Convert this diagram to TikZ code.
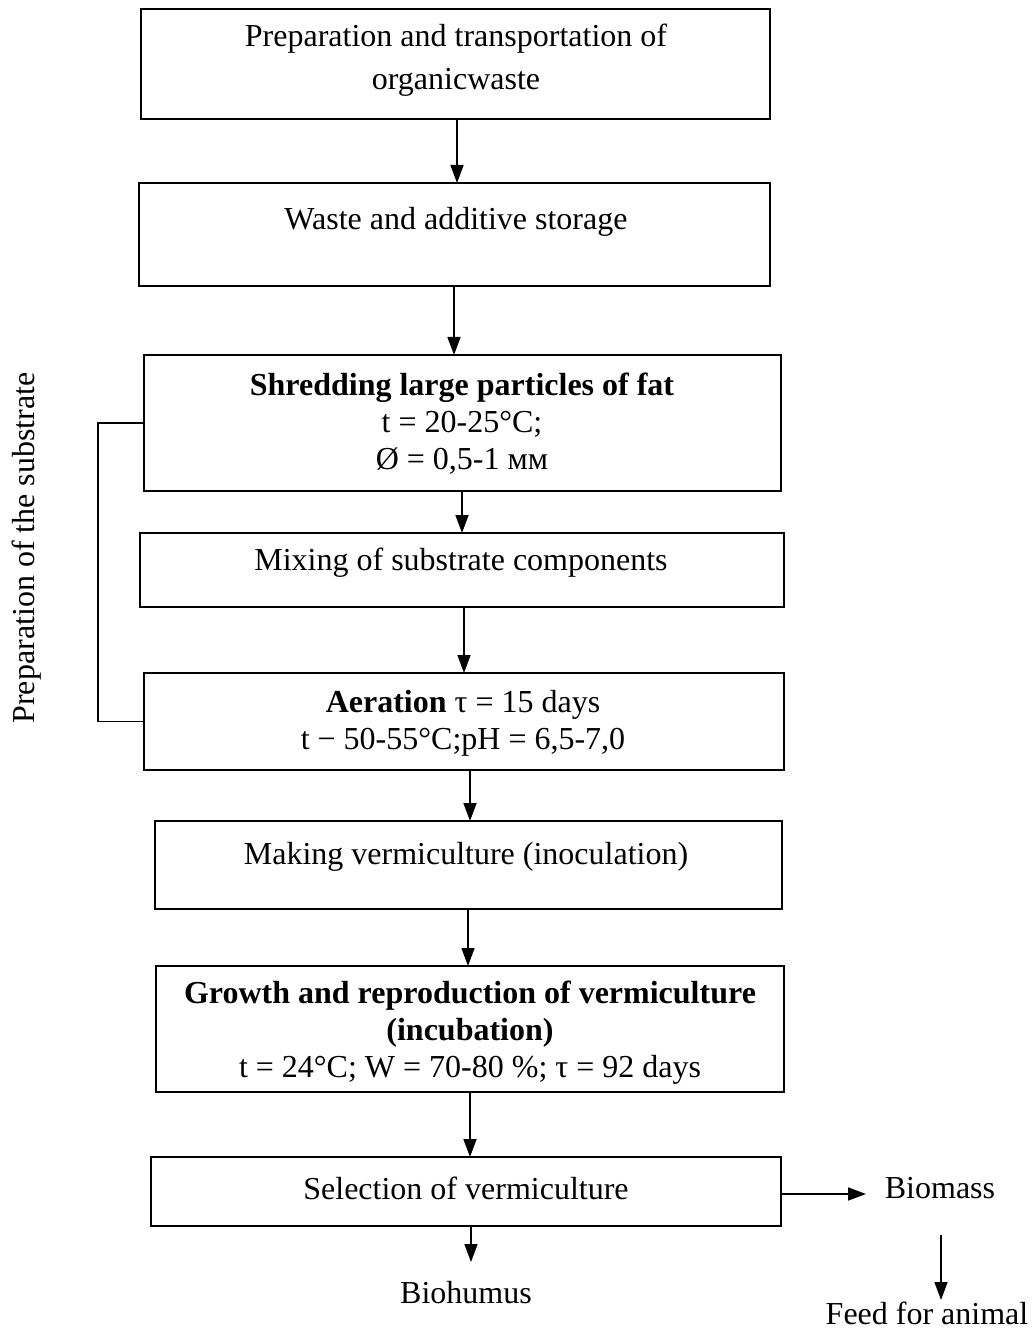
\documentclass[tikz,border=0pt]{standalone}
\usepackage{fontspec}
\setmainfont{Liberation Serif}
\usetikzlibrary{arrows.meta}
\begin{document}
\begin{tikzpicture}[x=1bp,y=-1bp,
  box/.style={draw,line width=1.6bp,inner sep=0pt,outer sep=0pt,rectangle},
  txt/.style={inner sep=0pt,align=center,font=\fontsize{32bp}{37bp}\selectfont},
  arr/.style={line width=1.6bp,-{Triangle[length=18bp,width=13bp]}},
  lnk/.style={line width=1.6bp}]
\useasboundingbox (0,0) rectangle (1031,1330);
% boxes
\node[box,minimum width=629bp,minimum height=110bp] (b1) at (455.5,64) {};
\node[box,minimum width=631bp,minimum height=103bp] (b2) at (454.5,234.5) {};
\node[box,minimum width=637bp,minimum height=136bp] (b3) at (462.5,423) {};
\node[box,minimum width=644bp,minimum height=74bp] (b4) at (462,570) {};
\node[box,minimum width=640bp,minimum height=97bp] (b5) at (464,721.5) {};
\node[box,minimum width=627bp,minimum height=88bp] (b6) at (468.5,865) {};
\node[box,minimum width=628bp,minimum height=126bp] (b7) at (470,1029) {};
\node[box,minimum width=630bp,minimum height=69bp] (b8) at (466,1191.5) {};
% texts
\node[txt] (t1) at (456,60) {Preparation and transportation of\\[6bp]organicwaste};
\node[txt] (t2) at (456,222) {Waste and additive storage};
\node[txt] (t3) at (462,424) {\textbf{Shredding large particles of fat}\\t = 20-25°C;\\Ø = 0,5-1 мм};
\node[txt] (t4) at (461,563) {Mixing of substrate components};
\node[txt] (t5) at (463,723) {\textbf{Aeration} τ = 15 days\\t − 50-55°C;pH = 6,5-7,0};
\node[txt] (t6) at (466,857) {Making vermiculture (inoculation)};
\node[txt] (t7) at (470,1033) {\textbf{Growth and reproduction of vermiculture}\\\textbf{(incubation)}\\t = 24°C; W = 70-80 \%; τ = 92 days};
\node[txt] (t8) at (466,1188) {Selection of vermiculture};
\node[txt] (bio) at (466,1293) {Biohumus};
\node[txt] (mass) at (940,1188) {Biomass};
\node[txt] (feed) at (927,1313) {Feed for animal};
\node[txt,rotate=90] (side) at (27,548) {Preparation of the substrate};
% arrow x positions
\coordinate (x1) at (457,0);
\coordinate (x2) at (454,0);
\coordinate (x3) at (462,0);
\coordinate (x4) at (464,0);
\coordinate (x5) at (470,0);
\coordinate (x6) at (468,0);
\coordinate (x7) at (470,0);
\coordinate (x8) at (471,0);
\coordinate (bm) at (866,1194);
\coordinate (h8) at (471,1262);
\coordinate (f1) at (941,1235);
\coordinate (f2) at (941,1300);
\coordinate (bx) at (98,0);
% arrows
\draw[arr] (b1.south -| x1) -- (b2.north -| x1);
\draw[arr] (b2.south -| x2) -- (b3.north -| x2);
\draw[arr] (b3.south -| x3) -- (b4.north -| x3);
\draw[arr] (b4.south -| x4) -- (b5.north -| x4);
\draw[arr] (b5.south -| x5) -- (b6.north -| x5);
\draw[arr] (b6.south -| x6) -- (b7.north -| x6);
\draw[arr] (b7.south -| x7) -- (b8.north -| x7);
\draw[arr] (b8.south -| x8) -- (h8);
\draw[arr] (b8.east |- bm) -- (bm);
\draw[arr] (f1) -- (f2);
% bracket
\draw[lnk] (b3.west) -- (b3.west -| bx) -- (b5.west -| bx) -- (b5.west);
\end{tikzpicture}
\end{document}
